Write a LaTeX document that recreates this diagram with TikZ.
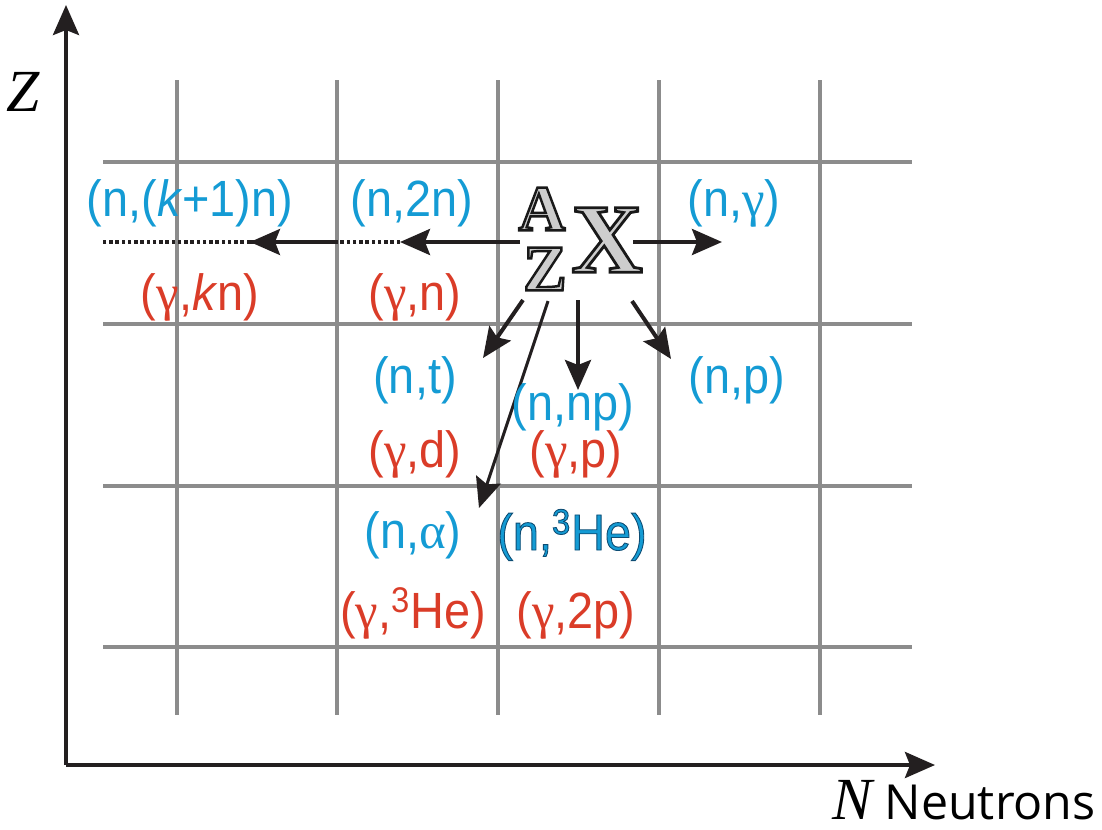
\documentclass[tikz,border=0pt]{standalone}
\usepackage{fontspec}
\setmainfont{Liberation Sans}
\newfontfamily\lab[FakeStretch=0.92]{Liberation Sans}
\newfontfamily\serif{Liberation Serif}
\newfontfamily\neut{Open Sans}
\usetikzlibrary{arrows.meta}
\definecolor{nblue}{RGB}{20,155,212}
\definecolor{gred}{RGB}{218,60,40}
\definecolor{gridgray}{RGB}{140,140,140}
\definecolor{axblack}{RGB}{35,31,32}
\definecolor{nucgray}{RGB}{205,205,205}
\newcommand{\gam}{{\serif γ}}
\newcommand{\alp}{{\serif α}}
% outlined text: fill in current colour, stroke given by RG values
\newcommand{\outl}[3]{\special{pdf:literal 2 Tr #1 w #2 RG}#3\special{pdf:literal 0 Tr}}
\begin{document}
\begin{tikzpicture}[x=0.02cm,y=-0.02cm,
  gridline/.style={gridgray,line width=0.08cm},
  tip/.style={-{Stealth[length=0.6cm,width=0.52cm,inset=0.1cm]}},
  axis/.style={axblack,line width=0.08cm,tip},
  react/.style={axblack,line width=0.08cm,tip},
  dotline/.style={axblack,line width=0.075cm,dash pattern=on 0.07cm off 0.055cm},
  dashline/.style={axblack,line width=0.075cm,dash pattern=on 0.16cm off 0.05cm},
  lbl/.style={inner sep=0,anchor=base,font=\lab\fontsize{29}{30}\selectfont},
  nlab/.style={lbl,text=nblue},
  glab/.style={lbl,text=gred},
  nuc/.style={inner sep=0,text=nucgray},
]
\useasboundingbox (0,0) rectangle (1102,829);
% grid
\foreach \x in {177,337,498,659,820} \draw[gridline] (\x,80) -- (\x,715);
\foreach \y in {162,324,486,647} \draw[gridline] (103,\y) -- (912,\y);
% axes
\coordinate (O) at (66,765);
\coordinate (ztip) at (66,5);
\coordinate (ntip) at (935,765);
\draw[axis] (O) -- (ztip);
\draw[axis] (O) -- (ntip);
\node[inner sep=0,anchor=base] (zlab) at (23,111) {\serif\itshape\fontsize{34}{34}\selectfont Z};
\node[inner sep=0,anchor=base east] (nlab) at (1096,819) {{\serif\itshape\fontsize{34}{34}\selectfont N}\hspace{0.24cm}{\neut\fontsize{27.5}{28}\selectfont Neutrons}};
% nucleus
\node[nuc] (X) at (607,240) {\serif\bfseries\fontsize{56}{56}\selectfont\outl{1.6}{0.1 0.1 0.1}{X}};
\node[nuc] (A) at (542,209) {\serif\bfseries\fontsize{37}{37}\selectfont\outl{1.4}{0.1 0.1 0.1}{A}};
\node[nuc] (Zn) at (545,269) {\serif\bfseries\fontsize{37}{37}\selectfont\outl{1.4}{0.1 0.1 0.1}{Z}};
% arrow coordinates
\coordinate (sL) at (520,242);
\coordinate (e1) at (400,242);
\coordinate (m1) at (338,242);
\coordinate (e2) at (250,242);
\coordinate (e3) at (103,242);
\coordinate (sR) at (633,242);
\coordinate (eR) at (722,242);
\coordinate (s1) at (523,300);
\coordinate (t1) at (483,358);
\coordinate (s2) at (548,301);
\coordinate (t2) at (479,508);
\coordinate (s3) at (578,300);
\coordinate (t3) at (578,390);
\coordinate (s4) at (632,301);
\coordinate (t4) at (671,359);
% arrows
\draw[react] (sL) -- (e1);
\draw[dotline] (e1) -- (m1);
\draw[dashline] (m1) -- (e2);
\draw[axblack,line width=0.07cm,tip] ([xshift=-0.1cm]m1) -- (e2);
\draw[dotline] (e2) -- (e3);
\draw[react] (sR) -- (eR);
\draw[react] (s1) -- (t1);
\draw[axblack,line width=0.06cm,tip] (s2) -- (t2);
\draw[react] (s3) -- (t3);
\draw[react] (s4) -- (t4);
% labels
\node[nlab] (nk) at (190,216) {(n,(\textit{k}+1)n)};
\node[nlab] (n2n) at (412,216) {(n,2n)};
\node[nlab] (ng) at (734,216) {(n,\gam)};
\node[glab] (gk) at (200,310) {(\gam,\textit{k}n)};
\node[glab] (gn) at (415,310) {(\gam,n)};
\node[nlab] (nt) at (415,393) {(n,t)};
\node[nlab] (np) at (737,393) {(n,p)};
\node[nlab] (nnp) at (573,420) {(n,np)};
\node[glab] (gd) at (415,467) {(\gam,d)};
\node[glab] (gp) at (576,467) {(\gam,p)};
\node[nlab] (na) at (413,548) {(n,\alp)};
\node[nlab] (nhe) at (572,550) {\outl{0.5}{0.05 0.3 0.45}{(n,\textsuperscript{3}He)}};
\node[glab] (ghe) at (413,628) {(\gam,\textsuperscript{3}He)};
\node[glab] (g2p) at (576,628) {(\gam,2p)};
\end{tikzpicture}
\end{document}
